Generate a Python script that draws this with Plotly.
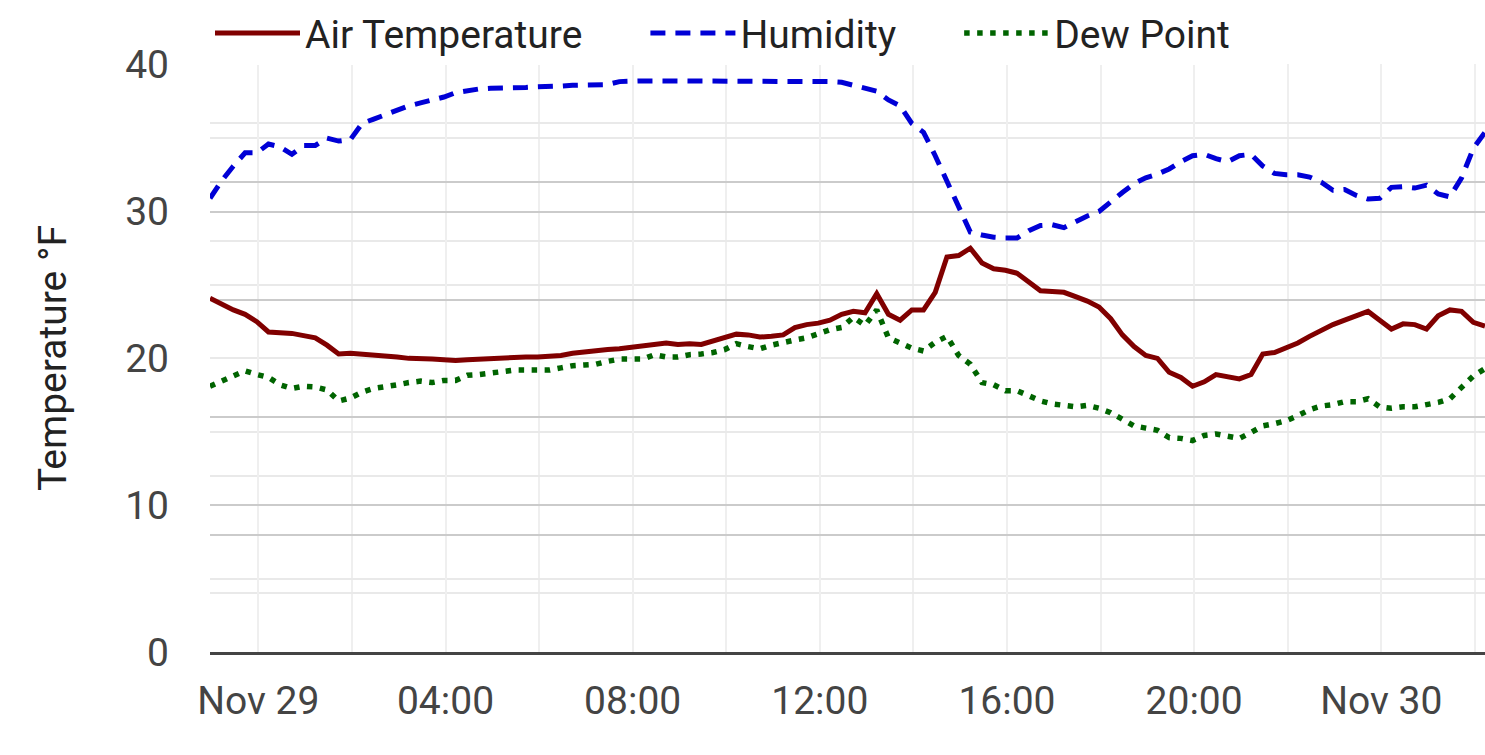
import pandas as pd
import plotly.graph_objects as go

# readings every 15 minutes, Nov 28 22:58 -> Nov 30 02:13
START = "2024-11-28 22:58"
STEP = "15min"

air_temp = [
    24.1, 23.7, 23.3, 23.0, 22.5, 21.8, 21.75, 21.7, 21.55, 21.4,
    20.9, 20.3, 20.35, 20.3, 20.25, 20.2, 20.1, 20.0, 20.0, 19.95,
    19.9, 19.85, 19.9, 19.95, 20.0, 20.05, 20.1, 20.1, 20.1, 20.15,
    20.2, 20.35, 20.45, 20.55, 20.6, 20.65, 20.75, 20.85, 21.0, 21.05,
    20.95, 21.0, 20.95, 21.2, 21.4, 21.65, 21.6, 21.45, 21.5, 21.6,
    22.1, 22.3, 22.4, 22.6, 23.0, 23.2, 23.1, 24.4, 23.0, 22.6,
    23.3, 23.3, 24.5, 26.9, 27.0, 27.5, 26.5, 26.1, 26.0, 25.8,
    25.2, 24.6, 24.55, 24.5, 24.2, 23.9, 23.5, 22.7, 21.6, 20.8,
    20.2, 20.0, 19.05, 18.7, 18.1, 18.4, 18.9, 18.75, 18.6, 18.9,
    20.3, 20.4, 20.7, 21.05, 21.5, 21.9, 22.3, 22.6, 22.9, 23.2,
    22.6, 22.0, 22.35, 22.3, 22.0, 22.9, 23.3, 23.2, 22.45, 22.2,
]
humidity = [
    30.9, 32.1, 33.1, 34.0, 34.0, 34.6, 34.4, 33.9, 34.5, 34.5,
    35.0, 34.8, 34.9, 36.0, 36.3, 36.6, 36.9, 37.2, 37.4, 37.6,
    37.8, 38.1, 38.25, 38.35, 38.4, 38.4, 38.4, 38.45, 38.5, 38.5,
    38.55, 38.6, 38.6, 38.6, 38.65, 38.85, 38.9, 38.9, 38.9, 38.9,
    38.9, 38.9, 38.85, 38.9, 38.9, 38.85, 38.9, 38.9, 38.9, 38.9,
    38.9, 38.9, 38.9, 38.85, 38.8, 38.6, 38.4, 38.2, 37.6, 37.2,
    36.0, 35.4, 33.8, 32.0, 30.2, 28.6, 28.4, 28.25, 28.2, 28.2,
    28.7, 29.05, 29.1, 28.9, 29.3, 29.7, 30.0, 30.7, 31.3, 31.9,
    32.3, 32.55, 32.9, 33.4, 33.8, 33.9, 33.6, 33.4, 33.8, 33.9,
    33.1, 32.6, 32.5, 32.5, 32.35, 32.0, 31.45, 31.5, 31.1, 30.85,
    30.9, 31.65, 31.7, 31.6, 31.8, 31.2, 31.0, 32.3, 34.3, 35.4,
]
dew_point = [
    18.1, 18.45, 18.7, 19.15, 18.9, 18.7, 18.2, 17.95, 18.1, 18.05,
    17.85, 17.1, 17.3, 17.7, 17.95, 18.05, 18.2, 18.35, 18.45, 18.35,
    18.5, 18.5, 18.85, 18.9, 19.0, 19.15, 19.2, 19.2, 19.2, 19.2,
    19.35, 19.5, 19.55, 19.6, 19.8, 19.95, 19.95, 19.95, 20.25, 20.1,
    20.1, 20.25, 20.3, 20.4, 20.6, 21.0, 20.8, 20.65, 20.9, 21.1,
    21.25, 21.4, 21.7, 21.95, 22.1, 22.8, 22.25, 23.3, 21.4, 21.0,
    20.7, 20.5, 21.1, 21.5, 20.2, 19.6, 18.35, 18.2, 17.8, 17.8,
    17.4, 17.1, 16.9, 16.8, 16.7, 16.8, 16.6, 16.3, 15.8, 15.4,
    15.25, 15.1, 14.6, 14.55, 14.4, 14.75, 14.85, 14.7, 14.55, 14.95,
    15.4, 15.55, 15.75, 16.1, 16.5, 16.75, 16.85, 17.05, 17.05, 17.25,
    16.7, 16.6, 16.7, 16.7, 16.85, 17.0, 17.25, 18.0, 18.8, 19.3,
]

tick_times = [
    "2024-11-29 00:00", "2024-11-29 04:00", "2024-11-29 08:00", "2024-11-29 12:00",
    "2024-11-29 16:00", "2024-11-29 20:00", "2024-11-30 00:00",
]
tick_text = ["Nov 29", "04:00", "08:00", "12:00", "16:00", "20:00", "Nov 30"]
y_ticks = [0, 10, 20, 30, 40]
# the chart carries two overlaid grids (10/5 and 8/4); darker and lighter lines
dark_grid = [8, 10, 16, 24, 30, 32, 40]
light_grid = [4, 5, 12, 15, 20, 25, 28, 35, 36]

times = pd.date_range(START, periods=len(air_temp), freq=STEP).to_pydatetime()

FONT = "Roboto"
FONT_SIZE = 39
MAJOR_GRID = "#cbcbcb"
MINOR_GRID = "#e9e9e9"
Y_RANGE = [0, 40.05]  # a hair above 40 so the top gridline is kept
PAD = "\u00a0" * 6  # widens the gap between horizontal legend entries

fig = go.Figure()
fig.add_trace(go.Scatter(x=times, y=air_temp, mode="lines", name="Air Temperature" + PAD,
                         line={"color": "#800000", "width": 5}))
# humidity sits on the overlaid axis that draws the grid
fig.add_trace(go.Scatter(x=times, y=humidity, mode="lines", name="Humidity" + PAD, yaxis="y2",
                         line={"color": "#0000d6", "width": 5, "dash": "15px,10px"}))
fig.add_trace(go.Scatter(x=times, y=dew_point, mode="lines", name="Dew Point",
                         line={"color": "#006400", "width": 5.5, "dash": "5.5px,7.5px"}))

fig.update_layout(
    width=1485, height=755,
    margin={"l": 210, "r": 0, "t": 64, "b": 103},
    paper_bgcolor="white", plot_bgcolor="white",
    font={"family": FONT, "size": FONT_SIZE, "color": "#444444"},
    showlegend=True,
    # top-anchored inside the top margin so it does not push the plot down
    legend={"orientation": "h", "x": 0, "xanchor": "left", "y": 1.107, "yanchor": "top",
            "font": {"size": FONT_SIZE, "color": "#222222"}, "itemwidth": 85},
    xaxis={
        "range": [times[0], times[-1]],
        "tickmode": "array", "tickvals": tick_times, "ticktext": tick_text,
        "showgrid": True, "gridcolor": "#efefef", "gridwidth": 2,
        "minor": {"dtick": 2 * 3600 * 1000, "tick0": tick_times[0], "showgrid": True,
                  "gridcolor": "#efefef", "gridwidth": 2},
        "showline": True, "linecolor": "#444444", "linewidth": 2.5,
        "ticks": "", "ticklabelstandoff": 12,
        "zeroline": False,
    },
    yaxis={
        "range": Y_RANGE, "tickmode": "array", "tickvals": y_ticks,
        "showgrid": False, "ticks": "", "ticklabelstandoff": 40, "zeroline": False,
        "title": {"text": "Temperature °F", "standoff": 46,
                  "font": {"size": FONT_SIZE, "color": "#222222"}},
    },
    yaxis2={
        "range": Y_RANGE, "overlaying": "y", "side": "right",
        "tickmode": "array", "tickvals": dark_grid,
        "showticklabels": False, "ticks": "",
        "showgrid": True, "gridcolor": MAJOR_GRID, "gridwidth": 2,
        "minor": {"tickmode": "array", "tickvals": light_grid, "showgrid": True,
                  "gridcolor": MINOR_GRID, "gridwidth": 2},
        "zeroline": False,
    },
)

# drop the default page margin so the figure sits at the window's top-left corner
fig.write_html("out.html", config={"displayModeBar": False},
               post_script="document.body.style.margin='0';"
                           "document.body.style.overflow='hidden';")
